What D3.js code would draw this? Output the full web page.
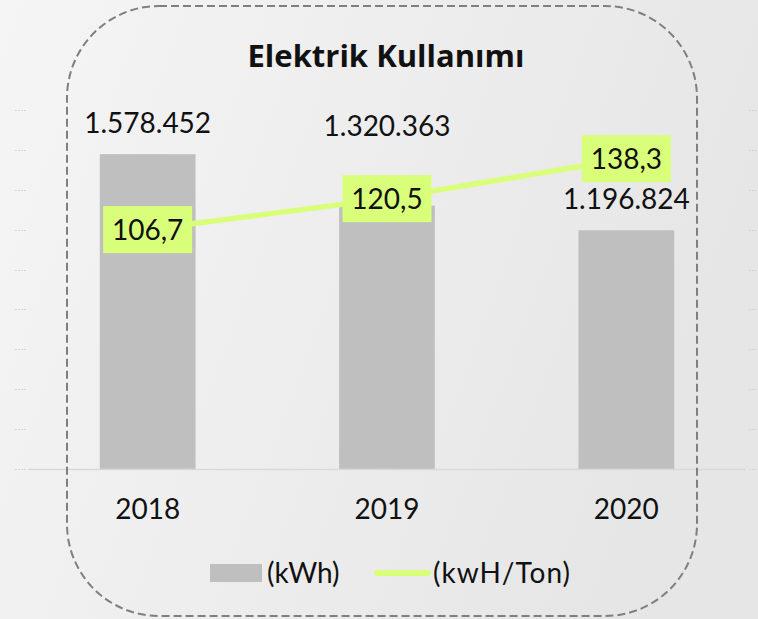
<!DOCTYPE html>
<html><head><meta charset="utf-8">
<script src="https://cdn.jsdelivr.net/npm/d3@7"></script>
<style>html,body{margin:0;padding:0;background:#eee;}svg{display:block;}</style>
</head><body>
<script>
const categories = ["2018", "2019", "2020"];
const kwhValues = [1578452, 1320363, 1196824];
const perTonValues = [106.7, 120.5, 138.3];
const kwhLabels = ["1.578.452", "1.320.363", "1.196.824"];
const perTonLabels = ["106,7", "120,5", "138,3"];
const seriesNames = ["(kWh)", "(kwH/Ton)"];
const title = "Elektrik Kullanımı";

const W = 758, H = 619;
const FONT = "Lato, 'Open Sans', sans-serif";
const svg = d3.select("body").append("svg").attr("width", W).attr("height", H);
const defs = svg.append("defs");
const grad = defs.append("linearGradient").attr("id", "bg").attr("x1", "0").attr("y1", "0").attr("x2", "1").attr("y2", "0.3");
grad.append("stop").attr("offset", "0").attr("stop-color", "#f5f5f5");
grad.append("stop").attr("offset", "1").attr("stop-color", "#e6e6e6");
svg.append("rect").attr("width", W).attr("height", H).attr("fill", "url(#bg)");

const x = d3.scaleBand().domain(categories).range([28, 746]).paddingInner(0.6).paddingOuter(0.3);
const y = d3.scaleLinear().domain([0, 1800000]).range([469, 110]);
const y2 = d3.scaleLinear().domain([0, 160]).range([469, 110]);

// faint tick marks at edges
const ticks = y.ticks(9);
svg.append("g").selectAll("line.tl").data(ticks).join("line")
  .attr("x1", 15).attr("x2", 27).attr("y1", d => Math.round(y(d)) + 0.5).attr("y2", d => Math.round(y(d)) + 0.5)
  .attr("stroke", "#d6d6d6").attr("stroke-dasharray", "2,1");
svg.append("g").selectAll("line.tr").data(ticks).join("line")
  .attr("x1", 749).attr("x2", 758).attr("y1", d => Math.round(y(d)) + 0.5).attr("y2", d => Math.round(y(d)) + 0.5)
  .attr("stroke", "#d6d6d6").attr("stroke-dasharray", "2,1");

// bars
svg.append("g").selectAll("rect").data(categories).join("rect")
  .attr("x", d => x(d)).attr("width", x.bandwidth())
  .attr("y", (d, i) => y(kwhValues[i])).attr("height", (d, i) => y(0) - y(kwhValues[i]))
  .attr("fill", "#bfbfbf");

// baseline
svg.append("line").attr("x1", 28).attr("x2", 746).attr("y1", y(0) + 0.5).attr("y2", y(0) + 0.5)
  .attr("stroke", "#d9d9d9").attr("stroke-width", 1.5);

// x axis labels
const xAxis = d3.axisBottom(x).tickSize(0).tickPadding(0);
const gx = svg.append("g").attr("transform", `translate(0,${y(0)})`).call(xAxis);
gx.select(".domain").remove();
gx.selectAll("text").attr("font-family", FONT).attr("font-size", 28).attr("fill", "#111")
  .attr("dy", null).attr("y", 50);

// bar value labels
const barLabelDy = [-21, -70, -21];
svg.append("g").selectAll("text").data(categories).join("text")
  .attr("x", d => x(d) + x.bandwidth() / 2)
  .attr("y", (d, i) => y(kwhValues[i]) + barLabelDy[i])
  .attr("text-anchor", "middle").attr("font-family", FONT).attr("font-size", 28).attr("fill", "#111")
  .text((d, i) => kwhLabels[i]);

// line
const line = d3.line().x((d, i) => x(categories[i]) + x.bandwidth() / 2).y(d => y2(d));
svg.append("path").datum(perTonValues).attr("d", line).attr("fill", "none")
  .attr("stroke", "#d9ff7a").attr("stroke-width", 5.5);

// line labels
const lg = svg.append("g").selectAll("g").data(perTonValues).join("g")
  .attr("transform", (d, i) => `translate(${x(categories[i]) + x.bandwidth() / 2},${y2(d)})`);
lg.append("rect").attr("x", -44.5).attr("y", -23.5).attr("width", 89).attr("height", 47).attr("fill", "#d9ff7a");
lg.append("text").attr("text-anchor", "middle").attr("y", 10).attr("font-family", FONT).attr("font-size", 28).attr("fill", "#111")
  .text((d, i) => perTonLabels[i]);

// title
svg.append("text").attr("x", 386).attr("y", 67).attr("text-anchor", "middle")
  .attr("font-family", "'Open Sans', Lato, sans-serif").attr("font-weight", "bold").attr("font-size", 31).attr("fill", "#111").text(title);

// legend
const leg = svg.append("g");
leg.append("rect").attr("x", 210).attr("y", 564).attr("width", 52).attr("height", 18).attr("fill", "#bfbfbf");
leg.append("text").attr("x", 267).attr("y", 583).attr("font-family", FONT).attr("font-size", 28).attr("fill", "#111").text(seriesNames[0]);
leg.append("line").attr("x1", 377).attr("x2", 428).attr("y1", 573).attr("y2", 573)
  .attr("stroke", "#d9ff7a").attr("stroke-width", 6).attr("stroke-linecap", "round");
leg.append("text").attr("x", 433).attr("y", 583).attr("font-family", FONT).attr("font-size", 28).attr("fill", "#111")
  .attr("textLength", 137).text(seriesNames[1]);

// dashed rounded frame
svg.append("rect").attr("x", 67).attr("y", 6).attr("width", 630).attr("height", 610).attr("rx", 92).attr("ry", 92)
  .attr("fill", "none").attr("stroke", "#7f7f7f").attr("stroke-width", 2).attr("stroke-dasharray", "8,4");
</script>
</body></html>
